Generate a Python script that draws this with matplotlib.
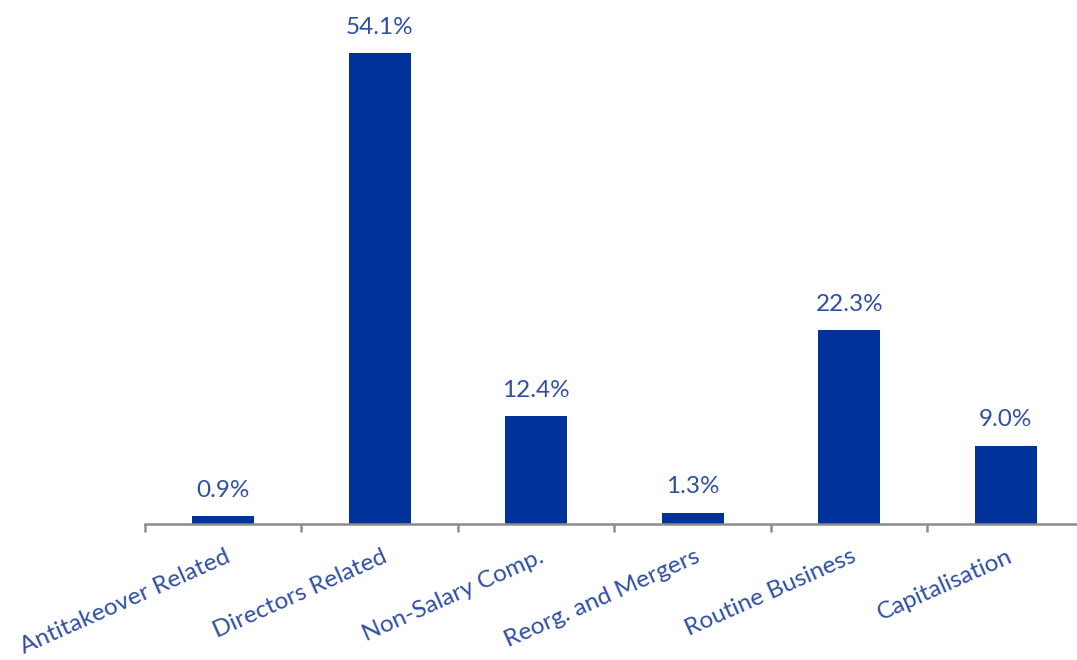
import matplotlib.pyplot as plt
import numpy as np

categories = ["Antitakeover Related", "Directors Related", "Non-Salary Comp.",
              "Reorg. and Mergers", "Routine Business", "Capitalisation"]
values = [0.9, 54.1, 12.4, 1.3, 22.3, 9.0]

bar_color = "#003399"
text_color = "#2E4FA3"
axis_color = "#8C8C8C"

plt.rcParams["font.family"] = ["Lato", "DejaVu Sans"]

fig = plt.figure(figsize=(10.77, 6.6), dpi=100)
ax = fig.add_axes([0.1346, 0.206, 0.8719, 0.7918])

x = np.arange(len(categories))
bars = ax.bar(x, values, width=0.395, color=bar_color)

for xi, v in zip(x, values):
    ax.annotate("{:.1f}%".format(v), (xi, v), xytext=(0, 11), textcoords="offset points",
                ha="center", va="bottom", fontsize=17.5, color=text_color)

ax.set_xlim(-0.5, len(categories) - 0.5)
ax.set_ylim(0, 60)

for s in ["top", "right", "left"]:
    ax.spines[s].set_visible(False)
ax.spines["bottom"].set_color(axis_color)
ax.spines["bottom"].set_linewidth(1.8)
ax.set_yticks([])

# tick marks at category boundaries
ax.set_xticks(np.arange(-0.5, len(categories), 1.0))
ax.set_xticklabels([])
ax.tick_params(axis="x", direction="out", length=6, width=1.8, color=axis_color)

for xi, lab in zip(x, categories):
    ax.text(xi + 0.01, -2.5, lab, rotation=24, ha="right", va="top",
            rotation_mode="anchor", fontsize=17.6, color=text_color)

plt.savefig("out.png", dpi=100)
